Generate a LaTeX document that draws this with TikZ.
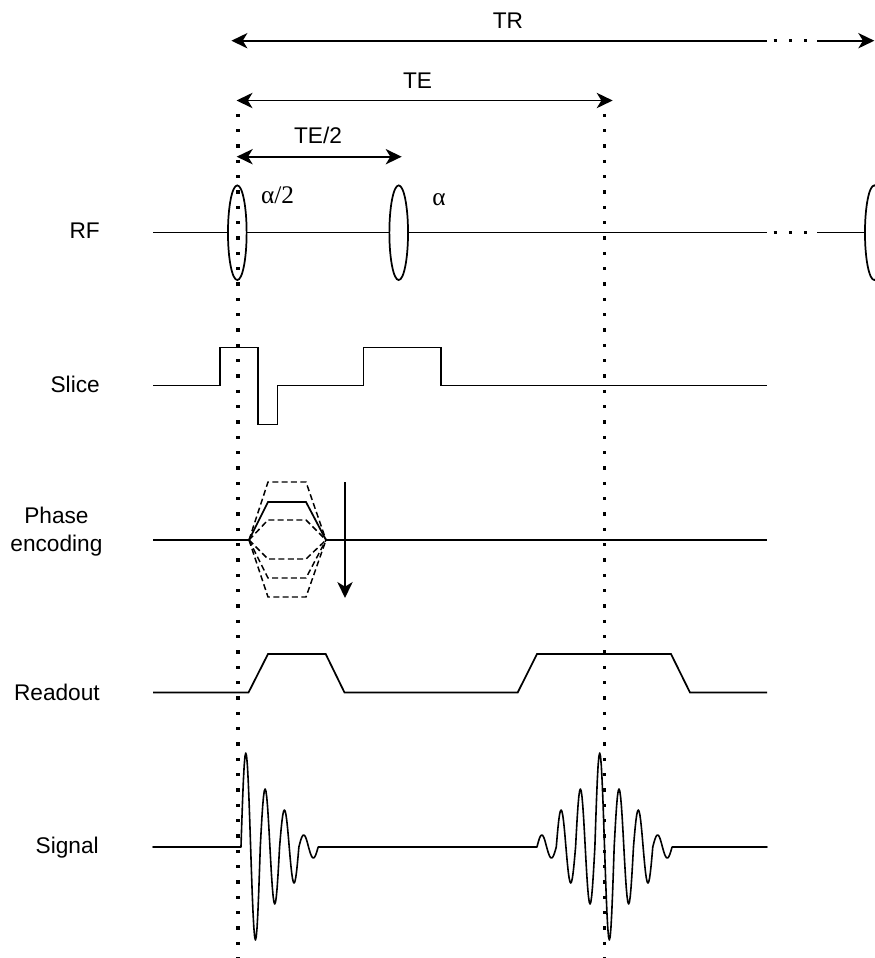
\documentclass[tikz,border=0pt]{standalone}
\usepackage{fontspec}
\setmainfont{Liberation Sans}
\newfontfamily\greekfont{Liberation Serif}
\usetikzlibrary{arrows.meta}
\usetikzlibrary{shapes.geometric}
\tikzset{
    x=0.75pt, y=-0.75pt,
    >={Stealth[length=12pt, width=11.5pt, inset=3.5pt]},
    every node/.append style={font=\fontsize{17}{21.3}\selectfont, inner sep=0pt},
    grad/.style={line width=1.3pt, line join=miter},
    span/.style={<->, line width=1.3pt},
    marker/.style={line width=2.4pt, dash pattern=on 2.3pt off 9.2pt},
    encode/.style={line width=1.1pt, dash pattern=on 4.5pt off 2.5pt},
    wave/.style={line width=1.2pt, line join=round, line cap=round},
    pulse/.style={ellipse, draw, line width=1.3pt, fill=white, minimum width=14pt, minimum height=71pt},
    lbl/.style={anchor=base east},
    flipangle/.style={anchor=base, font=\greekfont\fontsize{19}{22}\selectfont}
}

\begin{document}
\begin{tikzpicture}
\useasboundingbox (0,0) rectangle (875,958);

% row labels
\node[lbl] (RFlbl) at (100,238.3) {RF};
\node[lbl] (Slicelbl) at (100,392.7) {Slice};
\node[anchor=east, align=center] (Phaselbl) at (102.7,531.6) {Phase\\encoding};
\node[lbl] (Readlbl) at (100,700) {Readout};
\node[lbl] (Siglbl) at (99,853.3) {Signal};

% timing spans
\coordinate (trL) at (231.4,40.7);
\coordinate (trA) at (767,40.7);
\coordinate (trB) at (817.3,40.7);
\coordinate (trR) at (874.3,40.7);
\draw[grad, <-] (trL) -- (trA);
\draw[marker] (773.7,40.7) -- (809,40.7);
\draw[grad, ->] (trB) -- (trR);
\node[anchor=base] (TR) at (508,28.3) {TR};

\coordinate (teL) at (236.5,100.5);
\coordinate (teR) at (612.7,100.5);
\draw[span] (teL) -- (teR);
\node[anchor=base] (TE) at (417.5,88.3) {TE};

\coordinate (halfL) at (236.7,156.7);
\coordinate (halfR) at (401.7,156.7);
\draw[span] (halfL) -- (halfR);
\node[anchor=base] (TEhalf) at (318,143) {TE/2};

% RF
\draw[grad] (153,232.5) -- (767,232.5);
\draw[marker] (773.7,232.5) -- (809,232.5);
\draw[grad] (817.3,232.5) -- (866,232.5);
\node[pulse] (p1) at (237.3,232.7) {};
\node[pulse] (p2) at (398.7,232.7) {};
\node[pulse] (p3) at (874.3,232.7) {};
\node[flipangle] (a1) at (277.5,203.3) {α/2};
\node[flipangle] (a2) at (439,205) {α};

% Slice
\draw[grad] (153,385.5) -- (220,385.5) -- (220,347.5) -- (258,347.5) -- (258,424.5)
    -- (277.5,424.5) -- (277.5,385.5) -- (363.5,385.5) -- (363.5,347.5)
    -- (441,347.5) -- (441,385.5) -- (767,385.5);

% Phase encoding
\draw[grad] (153,540) -- (249,540);
\draw[grad] (326,540) -- (767,540);
\foreach \lv in {-58,-20,19,38,57}
    \draw[encode] (249,540) -- (268,540+\lv) -- (306,540+\lv) -- (326,540);
\draw[grad] (249,540) -- (268,502) -- (306,502) -- (326,540);
\coordinate (stepT) at (345,482);
\coordinate (stepB) at (345,598);
\draw[grad, ->] (stepT) -- (stepB);

% Readout
\draw[grad] (153,692.5) -- (248.5,692.5) -- (268,654) -- (325.7,654) -- (344.5,692.5)
    -- (517.7,692.5) -- (537,654) -- (671,654) -- (690,692.5) -- (767,692.5);

% Signal
\draw[wave] (153,847) -- (241,847)
    foreach \a [count=\k from 0] in {-94,93,-58,57,-37,36,-12,11} {
        -- plot[domain=-90:90, samples=13] ({245.8+\k*9.65+\x*9.65/180}, {847+\a*cos(\x)})
    }
    -- (537,847)
    foreach \a [count=\k from 0] in {-12,11,-37,36,-58,57,-94,93,-58,57,-37,36,-12,11} {
        -- plot[domain=-90:90, samples=13] ({541.8+\k*9.65+\x*9.65/180}, {847+\a*cos(\x)})
    }
    -- (767,847);

% echo markers
\draw[marker] (238,113.8) -- (238,960);
\draw[marker] (604.7,113.8) -- (604.7,960);
\end{tikzpicture}
\end{document}
